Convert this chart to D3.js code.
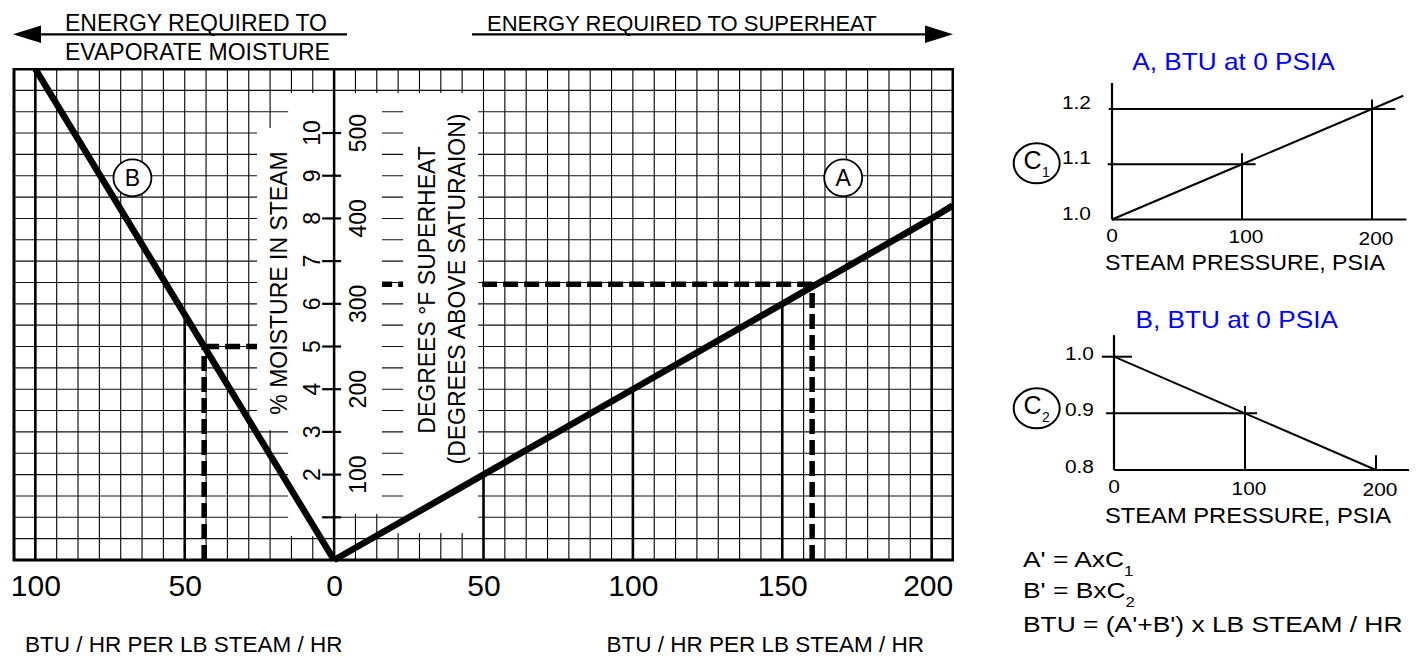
<!DOCTYPE html>
<html><head><meta charset="utf-8">
<script src="https://cdn.jsdelivr.net/npm/d3@7"></script>
<style>
body{margin:0;background:#fff}
svg text{font-family:"Liberation Sans", Arial, Helvetica, sans-serif; fill:#000}
</style>
</head><body>
<svg id="chart" width="1421" height="656"></svg>
<script>
// ---------------- DATA ----------------
const btuTickValues = [-100, -50, 0, 50, 100, 150, 200];
const btuTickLabels = ["100", "50", "0", "50", "100", "150", "200"];
const moistureTickValues = [1, 2, 3, 4, 5, 6, 7, 8, 9, 10];
const moistureTickLabels = ["", "2", "3", "4", "5", "6", "7", "8", "9", "10"];
const superheatTickValues = [100, 200, 300, 400, 500];
const superheatTickLabels = ["100", "200", "300", "400", "500"];
// curve A : energy to superheat (BTU per lb) vs degrees F superheat
const curveA_btu = [0, 50, 100, 150, 200, 207];
const curveA_deg = [0, 100, 200, 300, 400, 415];
// curve B : energy to evaporate moisture (BTU per lb) vs % moisture
const curveB_btu = [0, 43.5, 100];
const curveB_moist = [0, 5, 11.5];
const dropLineBtu = [-100, -50, 50, 100, 150, 200];
// worked example
const exampleMoisture = 5;
const exampleMoistureBtu = 43.5;
const exampleSuperheat = 323;
const exampleSuperheatBtu = 160;
// correction charts
const pressureTickValues = [0, 100, 200];
const pressureTickLabels = ["0", "100", "200"];
const c1TickValues = [1.0, 1.1, 1.2];
const c1TickLabels = ["1.0", "1.1", "1.2"];
const c1LinePressure = [0, 100, 200, 224];
const c1LineValue = [1.0, 1.1, 1.2, 1.224];
const c2TickValues = [1.0, 0.9, 0.8];
const c2TickLabels = ["1.0", "0.9", "0.8"];
const c2LinePressure = [0, 100, 200];
const c2LineValue = [1.0, 0.9, 0.8];

// ---------------- DRAW ----------------
const svg = d3.select("#chart");
svg.append("rect").attr("width", 1421).attr("height", 656).attr("fill", "#fff");

const x = d3.scaleLinear().domain([-750 / 7, 1450 / 7]).range([14, 953]);
const y = d3.scaleLinear().domain([0, 11.5]).range([560, 69]);
const yDeg = d3.scaleLinear().domain([0, 575]).range([560, 69]);

const mainG = svg.append("g");

// grid verticals
const gridX = d3.range(-14, 29).map(k => k * 50 / 7);
const gridY = d3.range(1, 23).map(j => j * 0.5);
mainG.append("g").selectAll("line").data(gridX).join("line")
  .attr("x1", d => x(d)).attr("x2", d => x(d))
  .attr("y1", y(0)).attr("y2", y(11.5))
  .attr("stroke", "#000").attr("stroke-width", 1.1);
// hide one vertical between the two label boxes
mainG.append("rect").attr("x", x(20.6)).attr("width", x(22.3) - x(20.6))
  .attr("y", y(10.94)).attr("height", y(0.63) - y(10.94)).attr("fill", "#fff");
// grid horizontals
mainG.append("g").selectAll("line").data(gridY).join("line")
  .attr("x1", x.range()[0]).attr("x2", x.range()[1])
  .attr("y1", d => y(d)).attr("y2", d => y(d))
  .attr("stroke", "#111").attr("stroke-width", 1.1);

// drop lines from curves to axis
const bInterp = d3.scaleLinear().domain(curveB_btu).range(curveB_moist);
const aInterp = d3.scaleLinear().domain(curveA_btu).range(curveA_deg);
mainG.append("g").selectAll("line").data(dropLineBtu).join("line")
  .attr("x1", d => x(d)).attr("x2", d => x(d))
  .attr("y1", y(0))
  .attr("y2", d => d < 0 ? y(bInterp(-d)) : yDeg(aInterp(d)))
  .attr("stroke", "#000").attr("stroke-width", 2.6);

// dashed example lines
const dash = mainG.append("g").attr("stroke", "#000").attr("stroke-width", 5.5)
  .attr("stroke-dasharray", "15,6").attr("fill", "none");
dash.append("line").attr("x1", x(-exampleMoistureBtu)).attr("x2", x(-exampleMoistureBtu))
  .attr("y1", y(0)).attr("y2", y(exampleMoisture));
dash.append("line").attr("x1", x(-exampleMoistureBtu)).attr("x2", x(0))
  .attr("y1", y(exampleMoisture)).attr("y2", y(exampleMoisture));
dash.append("line").attr("x1", x(exampleSuperheatBtu)).attr("x2", x(exampleSuperheatBtu))
  .attr("y1", y(0)).attr("y2", yDeg(exampleSuperheat));
dash.append("line").attr("x1", x(exampleSuperheatBtu)).attr("x2", x(0))
  .attr("y1", yDeg(exampleSuperheat)).attr("y2", yDeg(exampleSuperheat));

// white label boxes [btu0, btu1, m0, m1]
const boxes = [
  [-15.4, 16.0, 1.08, 10.94],
  [-25.8, -15.4, 3.04, 10.12],
  [-15.4, 0.2, 0.56, 1.10],
  [23.1, 48.2, 0.63, 10.94]
];
mainG.append("g").selectAll("rect").data(boxes).join("rect")
  .attr("x", d => x(d[0])).attr("width", d => x(d[1]) - x(d[0]))
  .attr("y", d => y(d[3])).attr("height", d => y(d[2]) - y(d[3]))
  .attr("fill", "#fff");

// zero axis
mainG.append("line").attr("x1", x(0)).attr("x2", x(0)).attr("y1", y(0)).attr("y2", y(11.5))
  .attr("stroke", "#000").attr("stroke-width", 2.5);
mainG.append("g").selectAll("line").data(moistureTickValues).join("line")
  .attr("x1", x(0) - 12).attr("x2", x(0) + 7)
  .attr("y1", d => y(d)).attr("y2", d => y(d))
  .attr("stroke", "#000").attr("stroke-width", 2.2);
mainG.append("g").selectAll("text").data(moistureTickValues).join("text")
  .attr("transform", d => `translate(${x(0) - 14},${y(d)}) rotate(-90)`)
  .attr("text-anchor", "middle").attr("font-size", 23)
  .text((d, i) => moistureTickLabels[i]);
mainG.append("g").selectAll("text").data(superheatTickValues).join("text")
  .attr("transform", d => `translate(${x(0) + 32},${yDeg(d)}) rotate(-90)`)
  .attr("text-anchor", "middle").attr("font-size", 23)
  .text((d, i) => superheatTickLabels[i]);

// rotated titles
mainG.append("text").attr("transform", `translate(287,283) rotate(-90)`)
  .attr("text-anchor", "middle").attr("font-size", 23).text("% MOISTURE IN STEAM");
mainG.append("text").attr("transform", `translate(435,290) rotate(-90)`)
  .attr("text-anchor", "middle").attr("font-size", 23).text("DEGREES °F SUPERHEAT");
mainG.append("text").attr("transform", `translate(465,289) rotate(-90)`)
  .attr("text-anchor", "middle").attr("font-size", 23).text("(DEGREES ABOVE SATURAION)");

// curves
const lineA = d3.line().x(d => x(d[0])).y(d => yDeg(d[1]));
mainG.append("path").datum(curveA_btu.map((b, i) => [b, curveA_deg[i]]))
  .attr("d", lineA).attr("fill", "none").attr("stroke", "#000").attr("stroke-width", 6.5);
const lineB = d3.line().x(d => x(-d[0])).y(d => y(d[1]));
mainG.append("path").datum(curveB_btu.map((b, i) => [b, curveB_moist[i]]))
  .attr("d", lineB).attr("fill", "none").attr("stroke", "#000").attr("stroke-width", 6.5);

// cover curve overshoot outside frame
svg.append("rect").attr("x", 0).attr("y", 0).attr("width", 1421).attr("height", 68).attr("fill", "#fff");
svg.append("rect").attr("x", 954).attr("y", 60).attr("width", 40).attr("height", 510).attr("fill", "#fff");
// frame
mainG.append("rect").attr("x", 14).attr("y", 69).attr("width", 939).attr("height", 491)
  .attr("fill", "none").attr("stroke", "#000").attr("stroke-width", 3);

// circle labels
const circ = [["B", -67.5, 8.95], ["A", 170.4, 8.95]];
const cg = mainG.append("g").selectAll("g").data(circ).join("g")
  .attr("transform", d => `translate(${x(d[1])},${y(d[2])})`);
cg.append("ellipse").attr("rx", 19).attr("ry", 18.5).attr("fill", "#fff")
  .attr("stroke", "#000").attr("stroke-width", 1.8);
cg.append("text").attr("text-anchor", "middle").attr("y", 8.5).attr("font-size", 23).text(d => d[0]);

// bottom axis
const ax = mainG.append("g").attr("transform", `translate(0,${y(0)})`)
  .call(d3.axisBottom(x).tickValues(btuTickValues).tickFormat((d, i) => btuTickLabels[i])
    .tickSize(0).tickPadding(15));
ax.select(".domain").remove();
ax.selectAll("text").attr("font-size", 30).attr("font-family", '"Liberation Sans", Arial, sans-serif').attr("fill", "#000")
  .attr("dx", (d, i) => i === btuTickValues.length - 1 ? -4 : 0);

mainG.append("text").attr("x", 25).attr("y", 651.5).attr("font-size", 22.5).text("BTU / HR PER LB STEAM / HR");
mainG.append("text").attr("x", 606.5).attr("y", 651.5).attr("font-size", 22.5).text("BTU / HR PER LB STEAM / HR");

// top arrows
const topG = svg.append("g");
topG.append("text").attr("x", 65).attr("y", 30.5).attr("font-size", 23).text("ENERGY REQUIRED TO");
topG.append("text").attr("x", 65).attr("y", 60).attr("font-size", 23).text("EVAPORATE MOISTURE");
topG.append("text").attr("x", 487).attr("y", 30.5).attr("font-size", 22).text("ENERGY REQUIRED TO SUPERHEAT");
topG.append("line").attr("x1", 30).attr("x2", 347).attr("y1", 34.3).attr("y2", 34.3).attr("stroke", "#000").attr("stroke-width", 2.2);
topG.append("path").attr("d", "M13,34.3 L41,25.5 L41,43 Z").attr("fill", "#000");
topG.append("line").attr("x1", 472).attr("x2", 935).attr("y1", 34.3).attr("y2", 34.3).attr("stroke", "#000").attr("stroke-width", 2.2);
topG.append("path").attr("d", "M953,34.3 L925,25.5 L925,43 Z").attr("fill", "#000");

// ---------------- CORRECTION CHARTS ----------------
function smallChart(opt) {
  const g = svg.append("g");
  const sx = opt.sx, sy = opt.sy;
  g.append("text").attr("transform", `translate(${opt.titleX},${opt.titleY}) scale(1.14,1)`)
    .attr("text-anchor", "middle").attr("font-size", 23).style("fill", "#0000ff").text(opt.title);
  opt.guides.forEach(gd => {
    g.append("line").attr("x1", sx(gd[0])).attr("x2", sx(gd[1]))
      .attr("y1", sy(gd[2])).attr("y2", sy(gd[3]))
      .attr("stroke", "#000").attr("stroke-width", 2);
  });
  g.append("line").attr("x1", sx(0)).attr("x2", sx(0)).attr("y1", sy(opt.yMin)).attr("y2", sy(opt.yTop))
    .attr("stroke", "#000").attr("stroke-width", 2.2);
  g.append("line").attr("x1", sx(0)).attr("x2", sx(opt.xEnd)).attr("y1", sy(opt.yMin)).attr("y2", sy(opt.yMin))
    .attr("stroke", "#000").attr("stroke-width", 2.2);
  g.append("path").datum(opt.lineP.map((p, i) => [p, opt.lineV[i]]))
    .attr("d", d3.line().x(d => sx(d[0])).y(d => sy(d[1])))
    .attr("fill", "none").attr("stroke", "#000").attr("stroke-width", 2);
  g.selectAll(".yl").data(opt.yTicks).join("text")
    .attr("transform", d => `translate(${opt.yLabelX},${sy(d) + opt.yLabelDy}) scale(1.1,1)`)
    .attr("text-anchor", "end").attr("font-size", 19)
    .text((d, i) => opt.yLabels[i]);
  g.selectAll(".xl").data(pressureTickValues).join("text")
    .attr("transform", (d, i) => `translate(${sx(d) + (i ? 4 : 0)},${sy(opt.yMin) + opt.xLabelDy + i * 1.5}) scale(1.1,1)`)
    .attr("text-anchor", "middle").attr("font-size", 19)
    .text((d, i) => pressureTickLabels[i]);
  g.append("text").attr("transform", `translate(${opt.xTitleX},${opt.xTitleY}) scale(${opt.xTitleScale},1)`)
    .attr("text-anchor", "middle").attr("font-size", 22).text("STEAM PRESSURE, PSIA");
  g.append("ellipse").attr("cx", 1036.7).attr("cy", opt.badgeY).attr("rx", 23).attr("ry", 20)
    .attr("fill", "#fff").attr("stroke", "#000").attr("stroke-width", 2);
  g.append("text").attr("x", 1032.5).attr("y", opt.badgeY + 5.5).attr("text-anchor", "middle")
    .attr("font-size", 25).text("C");
  g.append("text").attr("x", 1046).attr("y", opt.badgeY + 14).attr("text-anchor", "middle")
    .attr("font-size", 14).text(opt.sub);
}

const c1x = d3.scaleLinear().domain([0, 200]).range([1112, 1372]);
const c1y = d3.scaleLinear().domain([1.0, 1.2]).range([219.5, 109]);
smallChart({
  sx: c1x, sy: c1y, title: "A, BTU at 0 PSIA", titleX: 1233.5, titleY: 70,
  guides: [[-2.5, 218, 1.2, 1.2], [-3.3, 110.5, 1.1, 1.1], [100, 100, 1.0, 1.12], [200, 200, 1.0, 1.217]],
  yMin: 1.0, yTop: 1.247, xEnd: 226.5,
  lineP: c1LinePressure, lineV: c1LineValue,
  yTicks: c1TickValues, yLabels: c1TickLabels, yLabelX: 1091, yLabelDy: 0,
  xLabelDy: 22, xTitleX: 1245, xTitleY: 270, xTitleScale: 1.055,
  badgeY: 163.3, sub: "1"
});
const c2x = d3.scaleLinear().domain([0, 200]).range([1114, 1376]);
const c2y = d3.scaleLinear().domain([0.8, 1.0]).range([470, 356.7]);
smallChart({
  sx: c2x, sy: c2y, title: "B, BTU at 0 PSIA", titleX: 1236.7, titleY: 328.3,
  guides: [[-9.3, 13.7, 1.0, 1.0], [-6.1, 109.2, 0.9, 0.9], [100, 100, 0.8, 0.913], [200, 200, 0.8, 0.826]],
  yMin: 0.8, yTop: 1.038, xEnd: 225.2,
  lineP: c2LinePressure, lineV: c2LineValue,
  yTicks: c2TickValues, yLabels: c2TickLabels, yLabelX: 1094, yLabelDy: 3,
  xLabelDy: 23, xTitleX: 1248, xTitleY: 523.3, xTitleScale: 1.08,
  badgeY: 408.3, sub: "2"
});

// formulas
const f = svg.append("g");
function formula(yb, main1, sub) {
  const t = f.append("text").attr("transform", `translate(1023,${yb}) scale(1.2,1)`).attr("font-size", 22);
  t.append("tspan").text(main1);
  if (sub) t.append("tspan").attr("font-size", 14).attr("dy", 9).text(sub);
}
formula(566.7, "A' = AxC", "1");
formula(598.3, "B' = BxC", "2");
formula(631.7, "BTU = (A'+B') x LB STEAM / HR", "");
</script>
</body></html>
